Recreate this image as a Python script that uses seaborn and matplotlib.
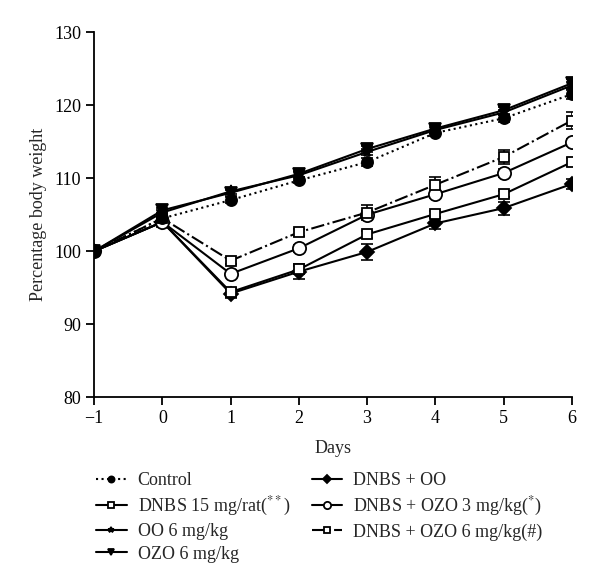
import seaborn as sns
import matplotlib.pyplot as plt
import pandas as pd

days = [-1, 0, 1, 2, 3, 4, 5, 6]

control = [100, 104.5, 107.0, 109.7, 112.2, 116.2, 118.2, 121.5]
dnbs15 = [100, 104.0, 94.4, 97.5, 102.3, 105.1, 107.8, 112.2]
oo6 = [100, 105.3, 108.2, 110.4, 113.6, 116.6, 119.0, 122.7]
ozo6 = [100, 105.6, 108.0, 110.6, 114.0, 116.8, 119.3, 123.0]
dnbs_oo = [100, 104.0, 94.2, 97.2, 99.9, 103.8, 105.9, 109.2]
dnbs_ozo3 = [100, 104.0, 96.9, 100.4, 105.0, 107.8, 110.7, 114.9]
dnbs_ozo6 = [100, 104.5, 98.7, 102.6, 105.3, 109.1, 112.9, 117.9]

sem_control = [0, 0.3, 0.4, 0.4, 0.5, 0.4, 0.5, 0.6]
sem_dnbs15 = [0, 0.3, 0.6, 0.5, 0.5, 0.4, 0.4, 0.5]
sem_oo6 = [0, 0.3, 0.4, 0.4, 0.4, 0.4, 0.4, 0.5]
sem_ozo6 = [0, 0.3, 0.4, 0.4, 0.4, 0.5, 0.5, 0.6]
sem_dnbs_oo = [0, 0.3, 0.6, 1.0, 1.1, 0.8, 0.9, 0.7]
sem_dnbs_ozo3 = [0, 0.3, 0.5, 0.5, 0.5, 0.5, 0.5, 0.5]
sem_dnbs_ozo6 = [0, 0.3, 0.4, 0.5, 1.0, 1.0, 1.0, 1.1]

labels = ['Control', 'DNBS 15 mg/rat($^{**}$)', 'OO 6 mg/kg', 'OZO 6 mg/kg',
          'DNBS + OO', 'DNBS + OZO 3 mg/kg($^{*}$)', 'DNBS + OZO 6 mg/kg(#)']
series = [control, dnbs15, oo6, ozo6, dnbs_oo, dnbs_ozo3, dnbs_ozo6]
sems = [sem_control, sem_dnbs15, sem_oo6, sem_ozo6, sem_dnbs_oo, sem_dnbs_ozo3, sem_dnbs_ozo6]

# marker, fill, linestyle, size
styles = [
    ('o', 'black', ':', 8),
    ('s', 'white', '-', 7.5),
    ('*', 'black', '-', 8),
    ('v', 'black', '-', 9),
    ('D', 'black', '-', 7),
    ('o', 'white', '-', 9.5),
    ('s', 'white', '-.', 7.5),
]

sns.set_style('ticks')
plt.rcParams['font.family'] = ['Liberation Serif', 'DejaVu Serif']
plt.rcParams['mathtext.fontset'] = 'stix'

fig = plt.figure(figsize=(6, 5.85), dpi=100)
ax = fig.add_axes([0.157, 0.321, 0.796, 0.624])

order = [4, 1, 5, 6, 0, 2, 3]
handles = [None] * 7
for i in order:
    m, fc, ls, ms = styles[i]
    df = pd.DataFrame({'day': days, 'weight': series[i]})
    ax.errorbar(days, series[i], yerr=sems[i], fmt='none', ecolor='black',
                elinewidth=1.2, capsize=4, capthick=1.2, zorder=2)
    sns.lineplot(data=df, x='day', y='weight', ax=ax, color='black', linestyle=ls,
                 linewidth=1.5, marker=m, markersize=ms, markerfacecolor=fc,
                 markeredgecolor='black', markeredgewidth=1.3, label=labels[i],
                 zorder=3)
    handles[i] = ax.get_lines()[-1]

ax.get_legend().remove()
ax.set_xlim(-1, 6)
ax.set_ylim(80, 130)
ax.set_xticks(days)
ax.set_xticklabels(['\u22121', '0', '1', '2', '3', '4', '5', '6'])
ax.set_yticks([80, 90, 100, 110, 120, 130])
ax.tick_params(labelsize=13, width=1.3, length=6, direction='out', colors='black')
for s in ['left', 'bottom']:
    ax.spines[s].set_linewidth(1.3)
    ax.spines[s].set_color('black')
sns.despine(ax=ax)
ax.set_xlabel('Days', fontsize=13, labelpad=9)
ax.set_ylabel('Percentage body weight', fontsize=13, labelpad=5)

fig.legend(handles=handles, labels=labels, ncol=2, loc='upper left',
           bbox_to_anchor=(0.148, 0.205), frameon=False, fontsize=13,
           handlelength=1.7, handletextpad=0.6, columnspacing=1.2,
           labelspacing=0.3, borderaxespad=0, markerscale=0.55)

fig.savefig('out.png', dpi=100)
